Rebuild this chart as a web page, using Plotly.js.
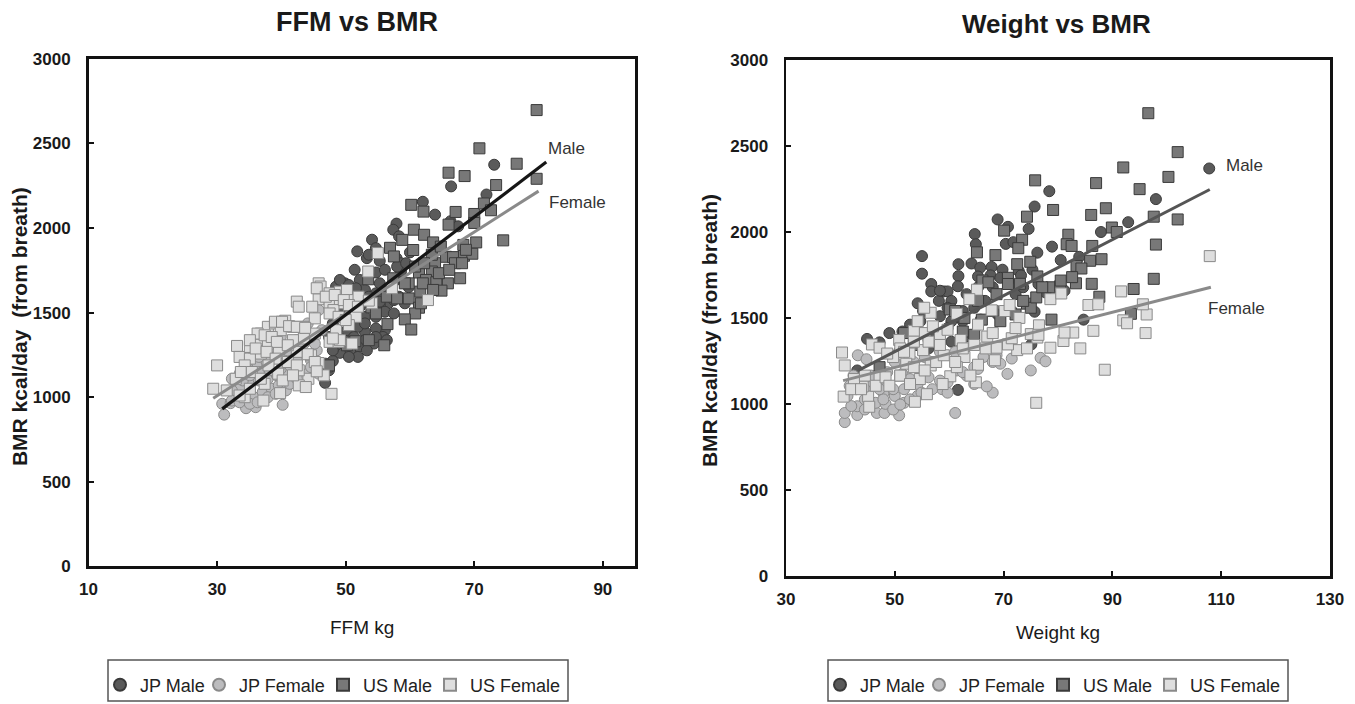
<!DOCTYPE html>
<html><head><meta charset="utf-8">
<script src="https://cdn.plot.ly/plotly-3.0.1.min.js"></script>
<style>html,body{margin:0;padding:0;background:#fff}#chart{width:1355px;height:704px}</style>
</head><body><div id="chart"></div>
<script>
// ---------- Panel 1: FFM (kg) vs BMR (kcal/day) ----------
const ffmJPMale = [[73.1,2374],[66.4,2246],[71.9,2198],[62.0,2155],[63.9,2079],[66.3,2040],[67.5,2010],[57.9,2026],[57.4,1990],[58.3,1951],[54.1,1931],[51.8,1862],[53.3,1822],[55.3,1806],[57.9,1822],[60.0,1856],[58.6,1792],[51.4,1753],[54.7,1737],[56.1,1753],[58.6,1743],[57.8,1693],[55.3,1673],[52.2,1693],[49.9,1673],[48.5,1654],[50.8,1624],[53.0,1634],[54.7,1614],[56.4,1634],[59.8,1650],[58.3,1594],[56.6,1555],[55.3,1545],[54.0,1574],[52.2,1535],[50.5,1559],[49.1,1515],[53.0,1475],[54.7,1475],[56.1,1505],[57.5,1495],[56.1,1396],[54.7,1406],[53.0,1386],[51.9,1416],[50.2,1396],[53.0,1337],[51.9,1297],[50.7,1268],[49.1,1262],[48.0,1214],[46.9,1198],[46.8,1085],[54.4,1317],[55.8,1356],[48.0,1436],[47.4,1356],[51.9,1238],
  [49.1,1693],[50.5,1663],[51.6,1644],[53.6,1594],[55.3,1565],[57.5,1574],[59.2,1555],[51.3,1475],[53.0,1436],[54.7,1356],[56.4,1337],[51.3,1356],[49.7,1337],[48.5,1307],[50.5,1238],[53.3,1277],[48.0,1277],[47.4,1159],[58.0,1772],[59.4,1792],[54.7,1881],[53.6,1842]];
const ffmJPFemale = [[31.1,897],[30.8,961],[32.1,965],[34.5,935],[36.0,941],[40.2,955],[32.9,1000],[34.6,980],[35.7,1000],[37.1,1030],[38.5,1050],[39.6,1070],[41.0,1070],[33.7,1060],[35.1,1090],[36.5,1099],[37.9,1109],[39.3,1129],[40.7,1143],[33.5,1139],[34.9,1168],[36.3,1198],[37.7,1208],[39.9,1228],[42.4,1218],[44.6,1218],[45.5,1277],[45.8,1515],[44.1,1436],[42.4,1337],[43.5,1317],[41.0,1277],[38.5,1268],[35.7,1268],[37.1,1337],[39.9,1356],[32.3,1040],[45.8,1139],[42.4,1178],[37.4,1159],[32.3,1109],
  [32.3,980],[33.5,970],[35.1,961],[36.3,970],[37.9,1000],[39.1,1020],[40.7,1040],[41.3,1079],[34.0,1099],[35.1,1129],[36.5,1149],[38.2,1159],[39.9,1168],[41.3,1188],[42.4,1109],[44.1,1139],[44.6,1178],[34.6,1208],[36.5,1238],[37.9,1248],[40.2,1198],[43.0,1268],[45.2,1317],[44.6,1356],[46.3,1396]];
const ffmUSMale = [[79.7,2697],[70.8,2471],[76.6,2380],[79.7,2291],[66.0,2327],[68.5,2307],[73.4,2254],[74.5,1927],[60.2,2137],[62.1,2097],[67.1,2095],[70.0,2083],[71.5,2145],[72.6,2105],[70.0,2030],[66.0,2020],[60.6,1990],[62.2,1960],[63.6,1915],[58.8,1930],[56.9,1883],[60.5,1870],[65.6,1830],[66.7,1828],[68.4,1836],[69.7,1848],[68.3,1900],[70.3,1915],[67.0,1792],[63.9,1792],[63.4,1743],[61.4,1737],[62.5,1693],[64.1,1679],[65.9,1673],[64.9,1630],[67.8,1703],[61.6,1624],[59.8,1584],[61.4,1529],[60.8,1495],[59.2,1460],[60.2,1400],[56.5,1432],[56.0,1307],[54.0,1531],[53.5,1697],[47.1,1182],[51.5,1331],[50.2,1307],[57.4,1703],[59.8,1673],[56.4,1594],[63.4,1842],[64.8,1890],
  [57.5,1832],[59.2,1673],[60.8,1772],[62.2,1792],[64.5,1733],[66.1,1753],[68.1,1792],[68.7,1871],[62.0,1673],[63.6,1634],[61.7,1555],[58.0,1584],[54.7,1495],[53.6,1337],[47.4,1188]];
const ffmUSFemale = [[29.4,1050],[30.0,1188],[33.1,1303],[33.8,1139],[33.5,1238],[35.1,1297],[36.3,1337],[36.8,1376],[37.9,1416],[39.0,1436],[40.6,1452],[42.4,1565],[42.7,1535],[41.8,1416],[43.5,1416],[45.2,1466],[45.8,1673],[46.1,1654],[47.5,1614],[49.1,1624],[50.2,1634],[45.8,1579],[47.5,1555],[49.1,1555],[50.5,1574],[48.1,1515],[51.0,1535],[53.5,1743],[55.0,1852],[51.6,1475],[50.5,1426],[48.5,1396],[47.5,1327],[48.9,1327],[45.2,1376],[43.5,1347],[42.4,1268],[44.6,1248],[45.8,1202],[46.6,1129],[47.8,1020],[44.2,1109],[42.7,1070],[42.7,1159],[39.5,1139],[37.4,1079],[37.2,980],[34.3,1000],[39.8,1024],[41.0,1208],[39.6,1277],[37.9,1317],[36.8,1258],[35.1,1228],[34.3,1188],[32.9,1109],[31.5,1040],[41.8,1337],[39.9,1396],[44.8,1535],[62.8,1574],[57.2,1644],[54.1,1555],[52.0,1594],
  [39.0,1446],[40.1,1446],[41.2,1420],[42.4,1416],[43.7,1410],[36.3,1376],[37.4,1366],[38.5,1356],[39.3,1327],[41.0,1307],[35.1,1337],[36.0,1288],[37.7,1268],[39.1,1228],[38.0,1188],[42.4,1188],[44.1,1254],[45.2,1208],[45.5,1153],[33.7,1149],[35.4,1149],[36.8,1109],[40.2,1099],[41.8,1129],[43.8,1060],[35.1,1050],[33.5,1010],[45.5,1644],[46.9,1594],[48.3,1604],[49.7,1574],[50.5,1545],[51.9,1535],[53.6,1571],[47.5,1495],[48.9,1475],[50.0,1456],[49.1,1337],[51.0,1317],[48.0,1347]];
const ffmMaleLineX = [30.8, 81.2];
const ffmMaleLineY = [931, 2390];
const ffmFemaleLineX = [29.4, 80.0];
const ffmFemaleLineY = [994, 2218];

// ---------- Panel 2: Weight (kg) vs BMR (kcal/day) ----------
const wtJPMale = [[107.8,2369],[78.4,2237],[75.7,2148],[98.0,2191],[68.9,2073],[70.8,2030],[74.6,2018],[64.7,1988],[92.9,2057],[87.9,2000],[70.4,1931],[71.8,1941],[64.9,1929],[78.9,1915],[76.2,1880],[55.0,1860],[61.7,1813],[64.1,1817],[65.7,1793],[67.8,1797],[69.8,1781],[72.8,1773],[75.3,1781],[80.5,1837],[83.9,1856],[55.0,1758],[61.7,1744],[65.3,1742],[67.6,1748],[69.4,1734],[73.2,1748],[56.7,1698],[56.7,1655],[59.0,1655],[59.7,1655],[61.6,1685],[63.2,1639],[58.1,1600],[54.2,1586],[55.2,1541],[54.7,1482],[58.3,1511],[60.4,1482],[65.8,1491],[68.9,1521],[71.5,1541],[75.7,1537],[77.7,1649],[81.2,1659],[84.7,1491],[49.0,1413],[44.9,1379],[47.2,1359],[50.8,1304],[56.2,1373],[63.2,1393],[65.3,1462],[75.1,1347],[61.6,1083],[43.1,1196],[56.2,1324],[60.4,1363],
  [58.3,1659],[60.4,1600],[62.5,1541],[64.6,1560],[66.6,1600],[68.0,1679],[72.2,1639],[73.6,1679],[76.4,1698],[59.7,1442],[62.5,1482],[57.6,1403],[52.8,1462],[51.4,1422],[65.3,1679],[59.7,1560]];
const wtJPFemale = [[40.8,896],[40.8,949],[43.1,937],[46.7,949],[48.1,949],[50.8,935],[61.1,949],[68.0,1067],[66.9,1103],[70.7,1176],[75.0,1196],[76.8,1269],[77.7,1249],[43.2,1284],[44.8,1261],[41.7,1107],[41.3,1048],[43.1,988],[44.5,1028],[46.5,1008],[48.3,1002],[50.0,1048],[51.7,1008],[51.7,1087],[49.7,1087],[47.9,1064],[45.8,1107],[43.8,1127],[45.7,1166],[47.6,1137],[48.6,1186],[51.4,1176],[52.8,1146],[54.2,1117],[56.2,1156],[58.7,1087],[58.3,1137],[61.4,1196],[63.2,1166],[64.6,1215],[66.3,1274],[68.0,1245],[69.4,1235],[61.1,1304],[58.3,1304],[55.5,1274],[53.5,1245],[50.0,1245],[42.4,1166],[64.6,1117],[54.2,1048],
  [42.0,989],[44.5,969],[47.9,1028],[49.7,969],[51.0,998],[52.8,1028],[44.5,1087],[47.2,1087],[56.9,1087],[59.7,1127],[62.5,1186],[65.3,1205],[68.7,1284],[71.5,1265],[59.7,1067],[54.9,1067]];
const wtUSMale = [[96.6,2690],[102.0,2464],[92.0,2375],[100.3,2320],[75.8,2300],[87.0,2284],[95.0,2249],[88.8,2138],[79.1,2128],[86.1,2099],[97.6,2089],[102.0,2073],[74.3,2089],[89.9,2026],[90.8,2000],[81.9,1984],[70.1,2008],[73.4,1955],[72.7,1906],[81.6,1929],[82.5,1919],[86.3,1919],[98.0,1927],[65.1,1882],[68.5,1866],[74.9,1827],[72.5,1813],[83.4,1803],[85.9,1833],[88.0,1842],[84.3,1788],[83.3,1702],[86.2,1699],[93.9,1669],[97.6,1728],[87.6,1624],[66.1,1718],[67.2,1708],[70.8,1734],[73.0,1699],[76.2,1742],[78.8,1679],[80.4,1685],[60.1,1550],[62.8,1501],[74.3,1584],[75.0,1560],[78.8,1491],[93.4,1525],[51.7,1413],[47.2,1215],[66.0,1491],[64.6,1403],[68.0,1541],
  [61.1,1541],[65.3,1600],[68.7,1639],[70.8,1698],[73.6,1600],[76.0,1620],[77.1,1679],[80.5,1718],[82.6,1738],[72.2,1521],[69.4,1482],[53.5,1344],[62.5,1422]];
const wtUSFemale = [[107.9,1860],[40.3,1300],[40.8,1225],[40.6,1044],[45.1,1044],[45.3,985],[53.7,1014],[55.9,1058],[76.0,1008],[88.6,1200],[96.1,1413],[96.3,1521],[95.6,1580],[92.0,1487],[92.7,1470],[91.6,1655],[85.6,1576],[87.4,1580],[86.5,1426],[84.1,1324],[82.8,1416],[81.0,1367],[81.2,1416],[78.6,1328],[78.6,1610],[80.6,1643],[76.2,1387],[75.0,1407],[76.5,1458],[72.5,1314],[70.8,1347],[68.7,1328],[68.4,1255],[65.1,1665],[63.7,1610],[61.4,1525],[56.6,1531],[55.4,1560],[67.8,1545],[70.2,1541],[72.9,1501],[71.1,1576],[55.5,1413],[53.5,1426],[50.8,1373],[45.8,1347],[47.2,1328],[51.0,1324],[52.7,1294],[55.2,1314],[58.3,1403],[59.7,1432],[62.1,1373],[64.6,1344],[66.7,1324],[67.0,1393],[62.8,1274],[60.2,1162],[58.8,1117],[56.6,1225],[54.6,1146],[52.1,1235],[49.7,1274],[51.0,1166],[47.2,1156],[44.1,1103],[42.5,1146],[65.3,1229],[64.9,1127],[63.9,1166],[61.4,1215],[71.5,1383],
  [42.0,1087],[43.8,1087],[44.5,1166],[46.5,1107],[48.3,1156],[49.0,1107],[51.0,1166],[52.8,1117],[53.5,1215],[55.5,1196],[57.6,1245],[59.0,1284],[61.1,1245],[62.5,1324],[56.2,1363],[58.3,1344],[53.5,1363],[51.7,1304],[48.6,1294],[54.2,1482],[57.0,1452],[65.3,1462],[68.0,1413],[72.2,1442],[76.4,1403],[74.3,1324]];
const wtMaleLineX = [43.3, 107.9];
const wtMaleLineY = [1196, 2247];
const wtFemaleLineX = [40.5, 108.1];
const wtFemaleLineY = [1137, 1679];

// ---------- labels ----------
const seriesNames = ['JP Male', 'JP Female', 'US Male', 'US Female'];
const panelTitles = ['FFM vs BMR', 'Weight vs BMR'];
const xTitles = ['FFM kg', 'Weight kg'];
const yTitles = ['BMR kcal/day \u00a0(from breath)', 'BMR kcal/day (from breath)'];
const fitLabels = ['Male', 'Female'];
const xTicks1 = [10, 30, 50, 70, 90];
const xTicks2 = [30, 50, 70, 90, 110, 130];
const yTicks = [0, 500, 1000, 1500, 2000, 2500, 3000];

// ---------- styling ----------
const FONT = 'Liberation Sans, Arial, Helvetica, sans-serif';
const styles = [
  {symbol: 'circle', color: '#5a5a5a', line: '#3a3a3a'},
  {symbol: 'circle', color: '#bcbcbe', line: '#8a8a8a'},
  {symbol: 'square', color: '#787878', line: '#3a3a3a'},
  {symbol: 'square', color: '#dedede', line: '#8a8a8a'}
];
const legendWidths = [54, 79, 62, 90];

function pts(arr, i) { return arr.map(p => p[i]); }

const traces = [];
const panels = [
  {data: [ffmJPMale, ffmJPFemale, ffmUSMale, ffmUSFemale], xa: 'x', ya: 'y', legend: 'legend'},
  {data: [wtJPMale, wtJPFemale, wtUSMale, wtUSFemale], xa: 'x2', ya: 'y2', legend: 'legend2'}
];
panels.forEach(p => {
  p.data.forEach((arr, i) => {
    traces.push({
      type: 'scatter', mode: 'markers', name: seriesNames[i],
      x: pts(arr, 0), y: pts(arr, 1), xaxis: p.xa, yaxis: p.ya,
      legend: p.legend, legendwidth: legendWidths[i],
      marker: {symbol: styles[i].symbol, size: 11, color: styles[i].color,
               line: {color: styles[i].line, width: 1}},
      hoverinfo: 'x+y+name'
    });
  });
});
// regression lines
traces.push({type:'scatter', mode:'lines', x: ffmFemaleLineX, y: ffmFemaleLineY, xaxis:'x', yaxis:'y',
  line:{color:'#8a8a8a', width:3}, showlegend:false, hoverinfo:'skip'});
traces.push({type:'scatter', mode:'lines', x: ffmMaleLineX, y: ffmMaleLineY, xaxis:'x', yaxis:'y',
  line:{color:'#161616', width:3.2}, showlegend:false, hoverinfo:'skip'});
traces.push({type:'scatter', mode:'lines', x: wtFemaleLineX, y: wtFemaleLineY, xaxis:'x2', yaxis:'y2',
  line:{color:'#8a8a8a', width:3}, showlegend:false, hoverinfo:'skip'});
traces.push({type:'scatter', mode:'lines', x: wtMaleLineX, y: wtMaleLineY, xaxis:'x2', yaxis:'y2',
  line:{color:'#555555', width:3}, showlegend:false, hoverinfo:'skip'});

const W = 1355, H = 704;
const px = v => v / W;
const py = v => 1 - v / H;

function axisBase() {
  return {
    showline: true, linecolor: '#111', linewidth: 2.5, mirror: true,
    ticks: 'inside', ticklen: 5, tickwidth: 2, tickcolor: '#111',
    showgrid: false, zeroline: false, fixedrange: true,
    tickfont: {family: FONT, size: 17, color: '#1a1a1a', weight: 'bold'}
  };
}

const layout = {
  width: W, height: H,
  margin: {l: 0, r: 0, t: 0, b: 0},
  paper_bgcolor: '#fff', plot_bgcolor: '#fff',
  font: {family: FONT, color: '#222'},
  xaxis: Object.assign(axisBase(), {domain: [px(88.5), px(635)], range: [10, 95], tickvals: xTicks1, anchor: 'y', ticklabelstandoff: 6}),
  yaxis: Object.assign(axisBase(), {domain: [py(568), py(59)], range: [0, 3000], tickvals: yTicks, anchor: 'x', ticklabelstandoff: 12}),
  xaxis2: Object.assign(axisBase(), {domain: [px(786), px(1330)], range: [30, 130], tickvals: xTicks2, anchor: 'y2', ticklabelstandoff: 6}),
  yaxis2: Object.assign(axisBase(), {domain: [py(578), py(60)], range: [0, 3000], tickvals: yTicks, anchor: 'x2', ticklabelstandoff: 12}),
  legend: {orientation: 'h', x: px(100), y: py(687), xanchor: 'left', yanchor: 'middle',
           bgcolor: 'rgba(0,0,0,0)', borderwidth: 0, itemsizing: 'constant',
           font: {family: FONT, size: 18, color: '#222'}},
  legend2: {orientation: 'h', x: px(820), y: py(687), xanchor: 'left', yanchor: 'middle',
           bgcolor: 'rgba(0,0,0,0)', borderwidth: 0, itemsizing: 'constant',
           font: {family: FONT, size: 18, color: '#222'}},
  shapes: [
    {type: 'rect', xref: 'paper', yref: 'paper', x0: px(108), x1: px(568), y0: py(703), y1: py(662), line: {color: '#555', width: 1.5}},
    {type: 'rect', xref: 'paper', yref: 'paper', x0: px(828), x1: px(1288), y0: py(703), y1: py(662), line: {color: '#555', width: 1.5}}
  ],
  annotations: [
    {text: panelTitles[0], xref: 'paper', yref: 'paper', x: px(357), y: py(22), xanchor: 'center', yanchor: 'middle', showarrow: false,
     font: {family: FONT, size: 27, color: '#1a1a1a', weight: 'bold'}},
    {text: panelTitles[1], xref: 'paper', yref: 'paper', x: px(1056), y: py(24), xanchor: 'center', yanchor: 'middle', showarrow: false,
     font: {family: FONT, size: 26, color: '#1a1a1a', weight: 'bold'}},
    {text: xTitles[0], xref: 'paper', yref: 'paper', x: px(362), y: py(629), xanchor: 'center', yanchor: 'middle', showarrow: false,
     font: {family: FONT, size: 19, color: '#1a1a1a'}},
    {text: xTitles[1], xref: 'paper', yref: 'paper', x: px(1058), y: py(634), xanchor: 'center', yanchor: 'middle', showarrow: false,
     font: {family: FONT, size: 19, color: '#1a1a1a'}},
    {text: yTitles[0], xref: 'paper', yref: 'paper', x: px(19), y: py(328), xanchor: 'center', yanchor: 'middle', textangle: -90, showarrow: false,
     font: {family: FONT, size: 21, color: '#1a1a1a', weight: 'bold'}},
    {text: yTitles[1], xref: 'paper', yref: 'paper', x: px(709), y: py(332), xanchor: 'center', yanchor: 'middle', textangle: -90, showarrow: false,
     font: {family: FONT, size: 21, color: '#1a1a1a', weight: 'bold'}},
    {text: fitLabels[0], xref: 'x', yref: 'y', x: 84.3, y: 2470, xanchor: 'center', yanchor: 'middle', showarrow: false,
     font: {family: FONT, size: 17, color: '#333'}},
    {text: fitLabels[1], xref: 'x', yref: 'y', x: 86.1, y: 2150, xanchor: 'center', yanchor: 'middle', showarrow: false,
     font: {family: FONT, size: 17, color: '#333'}},
    {text: fitLabels[0], xref: 'x2', yref: 'y2', x: 114.2, y: 2389, xanchor: 'center', yanchor: 'middle', showarrow: false,
     font: {family: FONT, size: 17, color: '#333'}},
    {text: fitLabels[1], xref: 'x2', yref: 'y2', x: 112.9, y: 1556, xanchor: 'center', yanchor: 'middle', showarrow: false,
     font: {family: FONT, size: 17, color: '#333'}}
  ],
  showlegend: true
};

Plotly.newPlot('chart', traces, layout, {displayModeBar: false, staticPlot: true});
</script></body></html>
